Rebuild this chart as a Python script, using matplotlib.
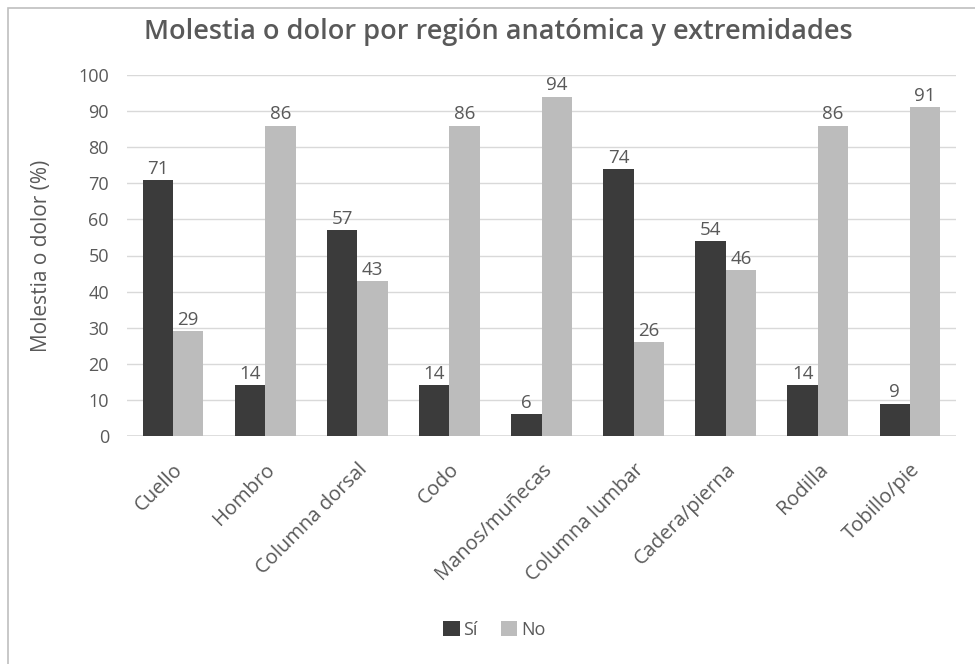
import numpy as np
import matplotlib
matplotlib.use("Agg")
import matplotlib.pyplot as plt
from matplotlib.patches import Rectangle

# Porcentaje de trabajadores con molestia o dolor por región
regiones = ["Cuello", "Hombro", "Columna dorsal", "Codo", "Manos/muñecas",
            "Columna lumbar", "Cadera/pierna", "Rodilla", "Tobillo/pie"]
si = [71, 14, 57, 14, 6, 74, 54, 14, 9]
no = [29, 86, 43, 86, 94, 26, 46, 86, 91]

TEXT = "#595959"
plt.rcParams['font.family'] = ['Open Sans', 'DejaVu Sans']

fig = plt.figure(figsize=(9.75, 6.64), dpi=100)
ax = fig.add_axes([127 / 975, 1 - 436 / 664, (956 - 127) / 975, (436 - 75) / 664])

# marco del gráfico
fig.patches.append(Rectangle((8 / 975, -0.05), 1.05, 1 - 8 / 664 + 0.05,
                             transform=fig.transFigure, fill=False,
                             edgecolor="#bfbfbf", linewidth=1.2))

x = np.arange(len(regiones))
w = 0.33
b1 = ax.bar(x - w / 2, si, w, color="#3b3b3b", label="Sí", zorder=3)
b2 = ax.bar(x + w / 2, no, w, color="#bcbcbc", label="No", zorder=3)

for bars in (b1, b2):
    for bar in bars:
        h = bar.get_height()
        ax.text(bar.get_x() + bar.get_width() / 2, h + 0.6, f"{h:.0f}",
                ha="center", va="bottom", fontsize=13.5, color=TEXT)

ax.set_xlim(-0.5, len(regiones) - 0.5)
ax.set_ylim(0, 100)
ax.set_yticks(range(0, 101, 10))
ax.yaxis.grid(True, color="#d9d9d9", linewidth=1, zorder=0)
ax.set_axisbelow(True)
for s in ax.spines.values():
    s.set_visible(False)
ax.axhline(0, color="#d9d9d9", linewidth=1.2, zorder=1)
ax.tick_params(axis="both", length=0, labelsize=13, colors=TEXT)
ax.tick_params(axis="y", pad=13)
ax.set_xticks(x)
ax.set_xticklabels(regiones, rotation=45, ha="right", rotation_mode="anchor",
                   fontsize=14.5)
ax.tick_params(axis="x", pad=17)

ax.set_ylabel("Molestia o dolor (%)", fontsize=15, color=TEXT)
ax.yaxis.set_label_coords(-(127 - 52) / 829, 0.5)

fig.text(0.511, 0.952, "Molestia o dolor por región anatómica y extremidades",
         ha="center", va="center", fontsize=19.5, fontweight="semibold", color=TEXT)

fig.legend(handles=[b1, b2], labels=["Sí", "No"], loc="center",
           bbox_to_anchor=(0.507, 1 - 630 / 664), ncol=2, frameon=False,
           fontsize=13, handlelength=0.9, handleheight=0.9,
           handletextpad=0.2, columnspacing=1.3, labelcolor=TEXT)

fig.savefig("out.png", dpi=100)
